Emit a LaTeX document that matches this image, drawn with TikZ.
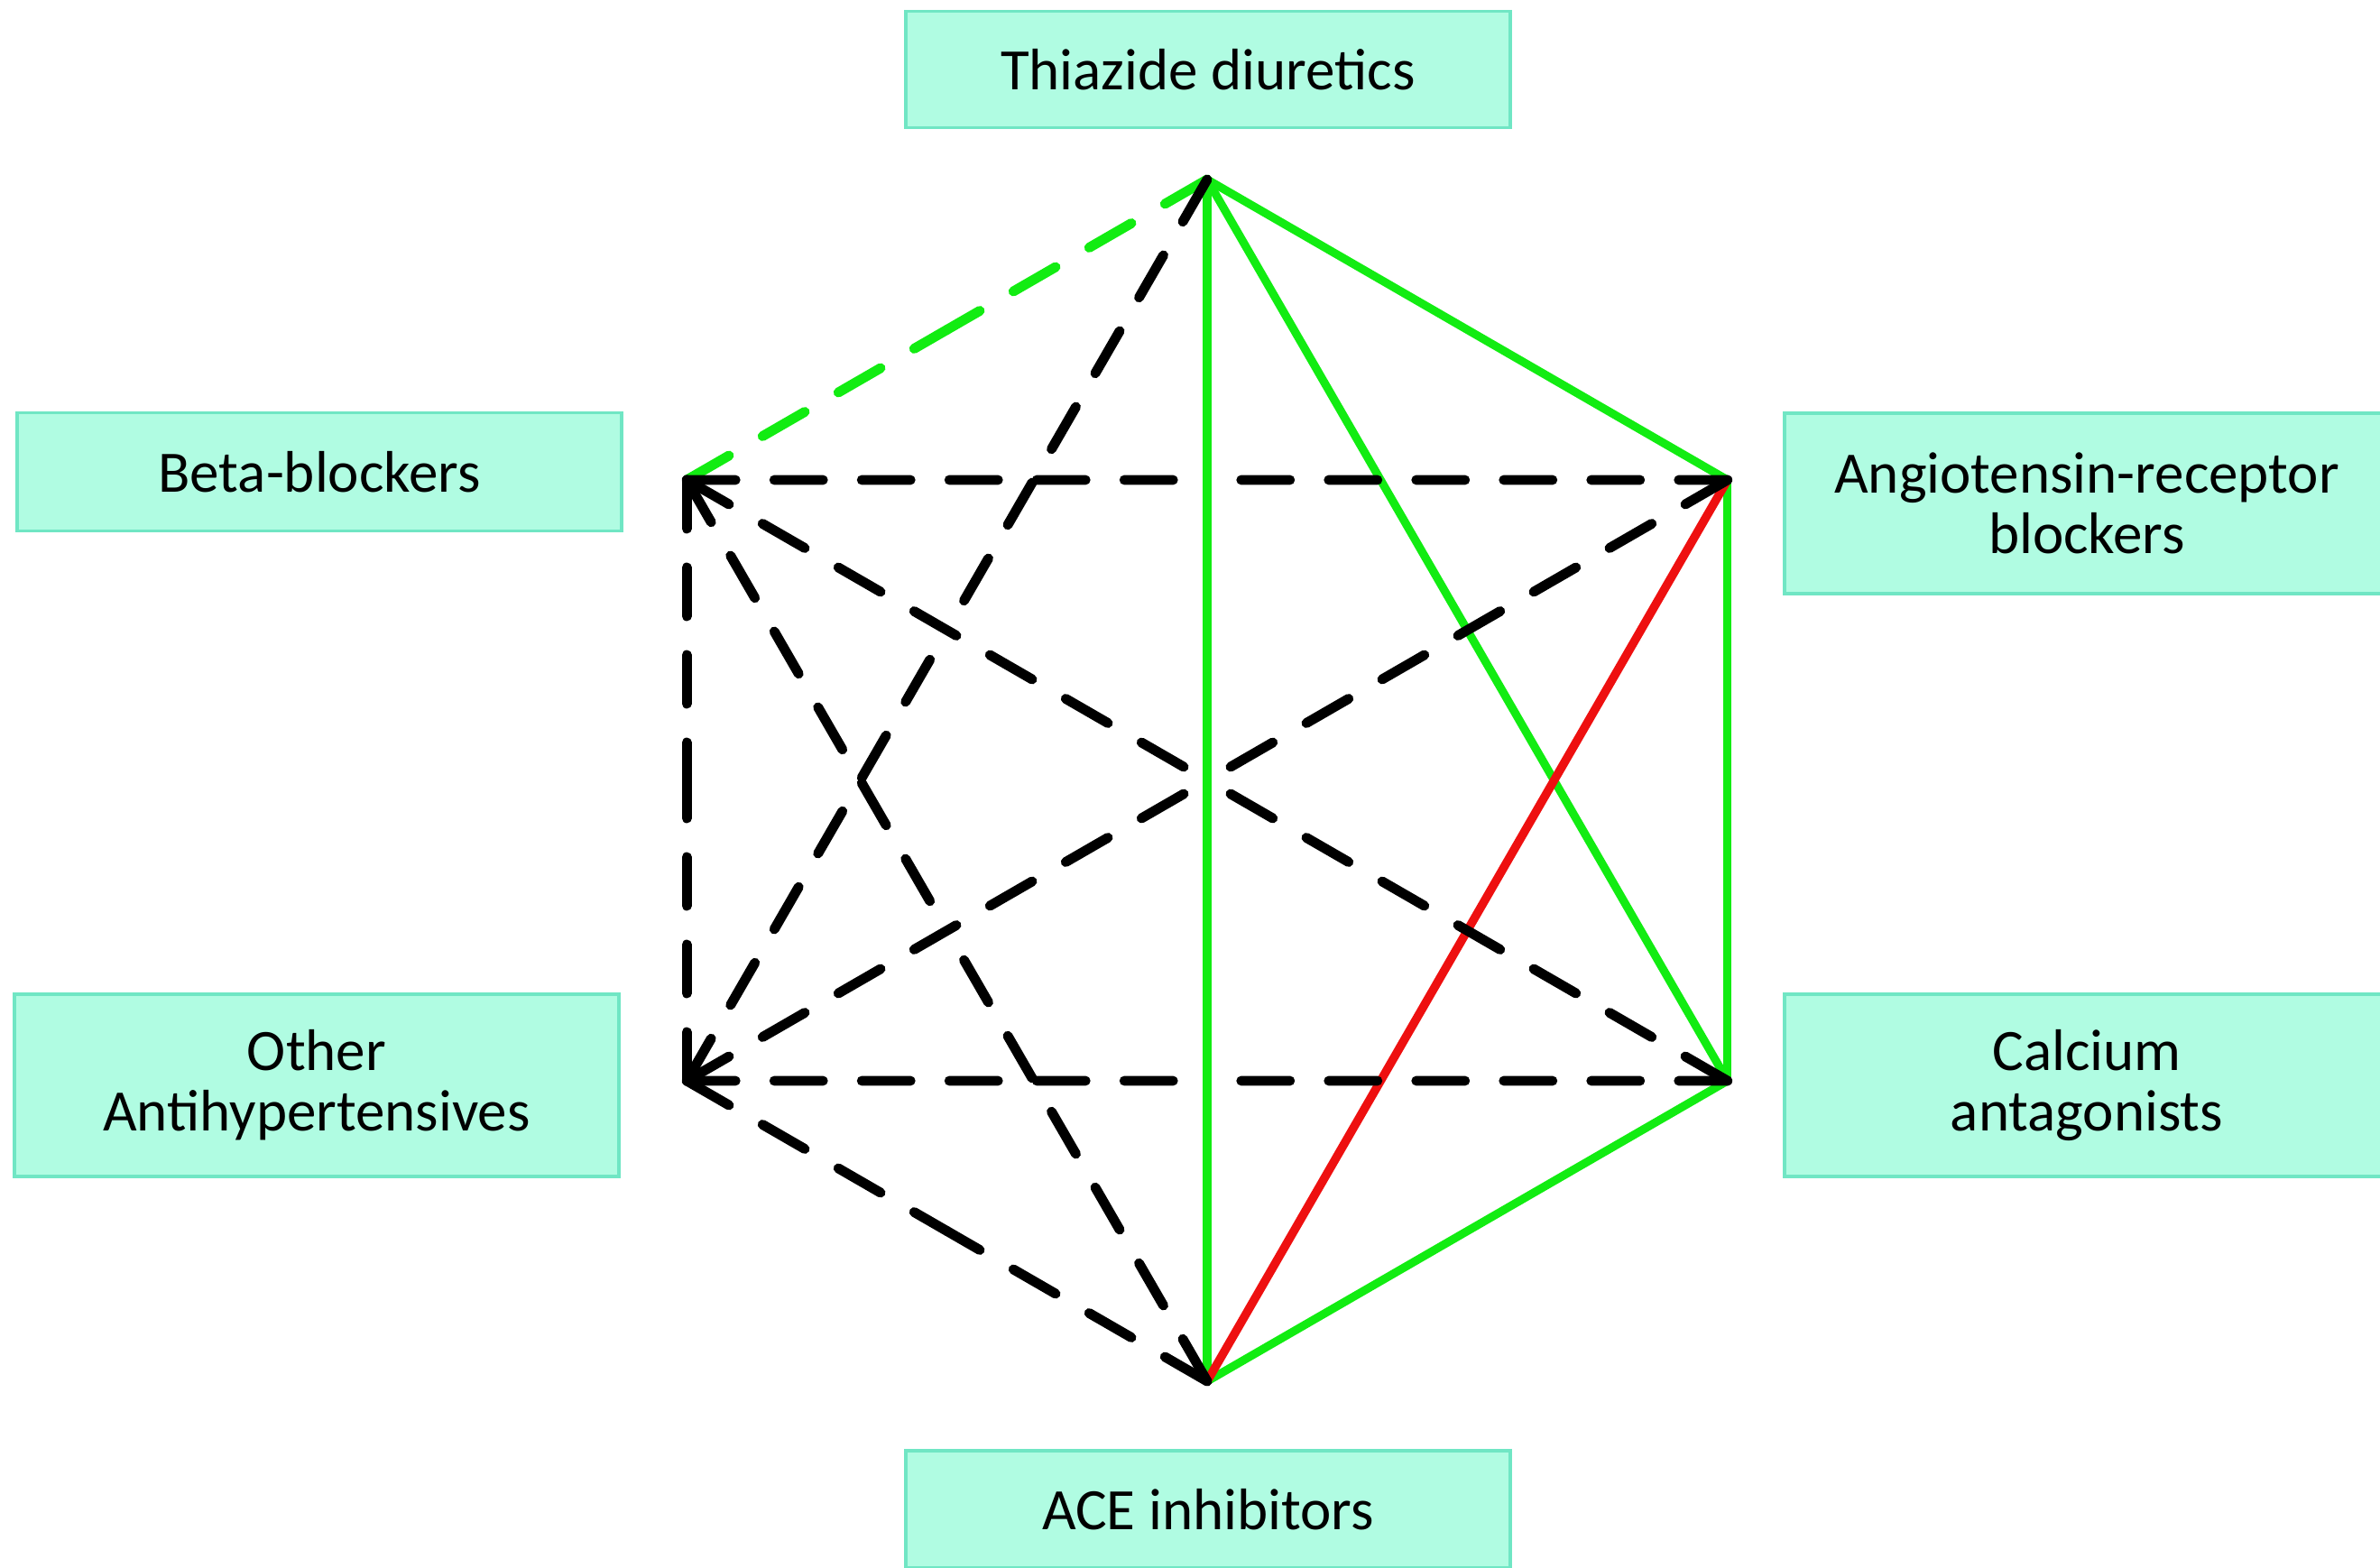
\documentclass[tikz,border=0pt]{standalone}
\usepackage{fontspec}
\setmainfont{Carlito}
\usetikzlibrary{calc}
\definecolor{drugfill}{RGB}{176,252,226}
\definecolor{drugline}{RGB}{112,230,196}
\definecolor{linkgreen}{RGB}{18,236,18}
\definecolor{linkred}{RGB}{238,16,16}
\begin{document}
\begin{tikzpicture}
  [drug/.style={rectangle,draw=drugline,fill=drugfill,line width=1pt,minimum width=6.7cm,align=center,font=\fontsize{18.5}{19.1}\selectfont},
   good/.style={line width=2.6pt,linkgreen},
   bad/.style={line width=2.7pt,linkred},
   maybe/.style={line width=3.1pt,dash pattern=on 5.4mm off 4.3mm,line cap=round}]
\clip (0,0) rectangle (26.38,17.37);

\node (thz) [drug,minimum height=1.29cm] at (13.39,16.6) {Thiazide diuretics};
\node (bb) [drug,minimum height=1.31cm] at (3.54,12.14) {Beta-blockers};
\node (arb) [drug,minimum height=2cm] at (23.13,11.79) {Angiotensin-receptor\\blockers};
\node (oth) [drug,minimum height=2.02cm] at (3.51,5.34) {Other\\Antihypertensives};
\node (cca) [drug,minimum height=2.02cm] at (23.13,5.34) {Calcium\\antagonists};
\node (ace) [drug,minimum height=1.3cm] at (13.39,0.64) {ACE inhibitors};

% corners of the hexagon
\begin{scope}[shift={(13.38,8.72)}]
  \coordinate (vt) at (90:6.66);
  \coordinate (va) at (30:6.66);
  \coordinate (vc) at (-30:6.66);
  \coordinate (ve) at (-90:6.66);
  \coordinate (vo) at (-150:6.66);
  \coordinate (vb) at (150:6.66);
\end{scope}

% preferred
\path [good] (vt) edge (va) (vt) edge (vc) (vt) edge (ve);
\path [good] (va) edge (vc) (vc) edge (ve);
% not recommended
\path [bad] (va) edge (ve);
% useful with limitations
\path [maybe,linkgreen] (vt) edge ($(vt)!.5!(vb)$) (vb) edge ($(vt)!.5!(vb)$);
% possible, less tested
\path [maybe,black] (vb) edge ($(vb)!.5!(va)$) (va) edge ($(vb)!.5!(va)$);
\path [maybe,black] (vb) edge ($(vb)!.5!(vo)$) (vo) edge ($(vb)!.5!(vo)$);
\path [maybe,black] (vb) edge ($(vb)!.5!(vc)$) (vc) edge ($(vb)!.5!(vc)$);
\path [maybe,black] (vb) edge ($(vb)!.5!(ve)$) (ve) edge ($(vb)!.5!(ve)$);
\path [maybe,black] (vt) edge ($(vt)!.5!(vo)$) (vo) edge ($(vt)!.5!(vo)$);
\path [maybe,black] (vo) edge ($(vo)!.5!(vc)$) (vc) edge ($(vo)!.5!(vc)$);
\path [maybe,black] (vo) edge ($(vo)!.5!(ve)$) (ve) edge ($(vo)!.5!(ve)$);
\path [maybe,black] (vo) edge ($(vo)!.5!(va)$) (va) edge ($(vo)!.5!(va)$);
\end{tikzpicture}
\end{document}
